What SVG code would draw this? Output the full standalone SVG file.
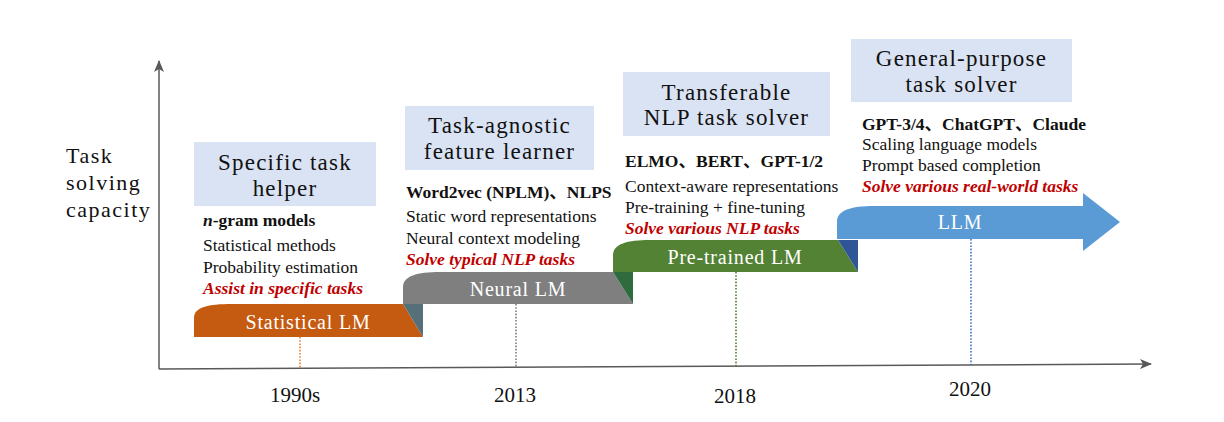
<svg xmlns="http://www.w3.org/2000/svg" width="1224" height="422" viewBox="0 0 1224 422">
<defs>
<marker id="ah" markerWidth="12" markerHeight="10" refX="11" refY="5" orient="auto" markerUnits="userSpaceOnUse">
<path d="M0,0 L12,5 L0,10 L3,5 Z" fill="#595959"/>
</marker>
<style>
.axis{stroke:#595959;stroke-width:1.5;fill:none}
.dot{stroke-width:1.6;stroke-dasharray:1.6 1.6;fill:none}
.box{fill:#DAE3F3}
.title{font-family:"Liberation Serif",serif;font-size:23px;letter-spacing:1.2px;fill:#111;text-anchor:middle}
.desc{font-family:"Liberation Serif","Noto Sans CJK SC",serif;font-size:17.5px;fill:#111}
.bold{font-weight:bold}
.red{font-weight:bold;font-style:italic;fill:#C00000}
.bar{font-family:"Liberation Serif",serif;font-size:20px;letter-spacing:0.8px;fill:#fff;text-anchor:middle}
.year{font-family:"Liberation Serif",serif;font-size:21px;fill:#111;text-anchor:middle}
.ylab{font-family:"Liberation Serif",serif;font-size:22px;letter-spacing:1.5px;fill:#111}
</style>
</defs>
<rect width="1224" height="422" fill="#fff"/>

<g id="connectors">
<line class="axis" x1="159" y1="369" x2="159" y2="61" marker-end="url(#ah)"/>
<line class="axis" x1="159" y1="369" x2="1151" y2="364" marker-end="url(#ah)"/>
<line class="dot" stroke="#ED7D31" x1="300" y1="337" x2="300" y2="368"/>
<line class="dot" stroke="#7F7F7F" x1="516" y1="304" x2="516" y2="368"/>
<line class="dot" stroke="#548235" x1="736" y1="272" x2="736" y2="366"/>
<line class="dot" stroke="#4472C4" x1="971" y1="239" x2="971" y2="365"/>
</g>

<g id="axis-label">
<text class="ylab" x="66" y="163">Task</text>
<text class="ylab" x="66" y="190">solving</text>
<text class="ylab" x="66" y="217">capacity</text>
</g>

<g id="years">
<text class="year" x="295" y="402">1990s</text>
<text class="year" x="515" y="402">2013</text>
<text class="year" x="735" y="403">2018</text>
<text class="year" x="970" y="396">2020</text>
</g>

<g id="stage-statistical">
<rect class="box" x="194" y="142" width="182" height="64"/>
<text class="title" x="285" y="170">Specific task</text>
<text class="title" x="285" y="196">helper</text>
<text class="desc bold" x="203" y="226"><tspan font-style="italic">n</tspan>-gram models</text>
<text class="desc" x="203" y="251">Statistical methods</text>
<text class="desc" x="203" y="273">Probability estimation</text>
<text class="desc red" x="203" y="294">Assist in specific tasks</text>
<path d="M194,337 V318 C194,307 208,304 232,304 H403 L423,337 Z" fill="#C55A11"/>
<path d="M403,304 H423 V337 Z" fill="#56707A"/>
<text class="bar" x="308" y="329">Statistical LM</text>
</g>

<g id="stage-neural">
<rect class="box" x="405" y="106" width="189" height="64"/>
<text class="title" x="499.5" y="133">Task-agnostic</text>
<text class="title" x="499.5" y="159">feature learner</text>
<text class="desc bold" x="406" y="198">Word2vec (NPLM)、NLPS</text>
<text class="desc" x="406" y="222">Static word representations</text>
<text class="desc" x="406" y="244">Neural context modeling</text>
<text class="desc red" x="406" y="265">Solve typical NLP tasks</text>
<path d="M403,304 V287 C403,276 417,272 440,272 H613 L633,304 Z" fill="#7F7F7F"/>
<path d="M613,272 H633 V304 Z" fill="#2E6B3E"/>
<text class="bar" x="518" y="296">Neural LM</text>
</g>

<g id="stage-pretrained">
<rect class="box" x="623" y="72" width="207" height="64"/>
<text class="title" x="726.5" y="100">Transferable</text>
<text class="title" x="726.5" y="125">NLP task solver</text>
<text class="desc bold" x="625" y="167">ELMO、BERT、GPT-1/2</text>
<text class="desc" x="625" y="192">Context-aware representations</text>
<text class="desc" x="625" y="213">Pre-training + fine-tuning</text>
<text class="desc red" x="625" y="234">Solve various NLP tasks</text>
<path d="M613,272 V255 C613,244 627,240 650,240 H838 L858,272 Z" fill="#548235"/>
<path d="M838,240 H858 V272 Z" fill="#2F5597"/>
<text class="bar" x="735" y="264">Pre-trained LM</text>
</g>

<g id="stage-llm">
<rect class="box" x="851" y="39" width="221" height="63"/>
<text class="title" x="961.5" y="66">General-purpose</text>
<text class="title" x="961.5" y="92">task solver</text>
<text class="desc bold" x="862" y="130">GPT-3/4、ChatGPT、Claude</text>
<text class="desc" x="862" y="150">Scaling language models</text>
<text class="desc" x="862" y="171">Prompt based completion</text>
<text class="desc red" x="862" y="192">Solve various real-world tasks</text>
<path d="M837,239 V222 C837,210 851,206 874,206 H1083 V193 L1120,222 L1083,251 V239 Z" fill="#5B9BD5"/>
<text class="bar" x="960" y="229">LLM</text>
</g>
</svg>
